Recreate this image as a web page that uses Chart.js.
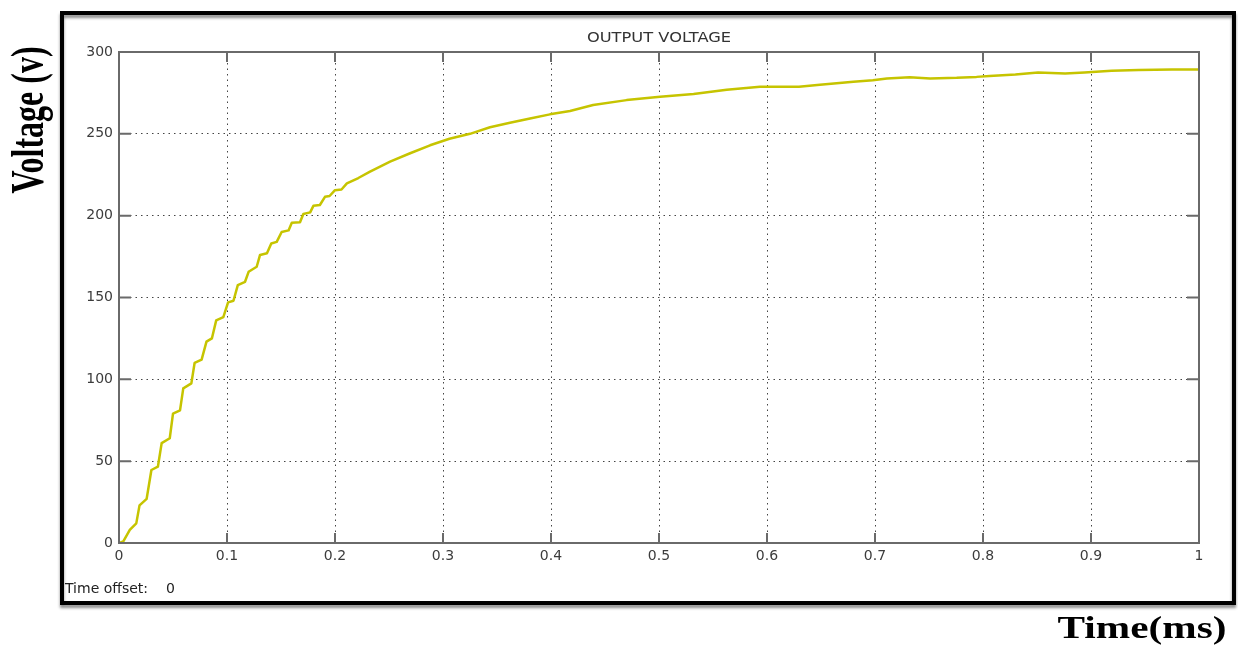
<!DOCTYPE html>
<html>
<head>
<meta charset="utf-8">
<title>Output Voltage</title>
<script src="https://cdn.jsdelivr.net/npm/chart.js"></script>
<style>
  html, body { margin: 0; padding: 0; background: #fff; }
  #wrap { position: relative; width: 1238px; height: 648px; }
</style>
</head>
<body>
<div id="wrap"><canvas id="voltChart" width="1238" height="648"></canvas></div>
<script>
// values (time in ms, voltage in V)
const timeMs = [
    0, 0.004, 0.010, 0.016, 0.019, 0.0256, 0.030, 0.036, 0.0395, 0.047,
    0.050, 0.0565, 0.0595, 0.067, 0.070, 0.0765, 0.081, 0.086, 0.090, 0.0966,
    0.101, 0.106, 0.110, 0.1167, 0.120, 0.1275, 0.1306, 0.137, 0.141, 0.146,
    0.1506, 0.157, 0.160, 0.1676, 0.1707, 0.177, 0.180, 0.186, 0.1907, 0.195,
    0.200, 0.206, 0.211, 0.2216, 0.232, 0.251, 0.269, 0.288, 0.306, 0.325,
    0.3435, 0.362, 0.3806, 0.399, 0.4176, 0.439, 0.470, 0.501, 0.532, 0.5627,
    0.5935, 0.6296, 0.649, 0.680, 0.698, 0.711, 0.732, 0.751, 0.7756, 0.794,
    0.806, 0.830, 0.851, 0.876, 0.894, 0.919, 0.944, 0.975, 1.0
];
const voltage = [
    0, 1, 8, 12, 23, 27, 44.6, 46.6, 61, 64,
    79, 81, 94.5, 97.5, 110, 112, 123, 125, 136, 138,
    147, 148, 157.6, 159.6, 165.7, 168.8, 176, 177, 183, 184,
    190, 191, 195.7, 196, 201, 202, 206, 206.5, 211.5, 212,
    215.6, 216, 219.7, 223, 226.8, 233, 238, 243, 247, 250,
    254, 256.8, 259.4, 261.9, 264, 267.6, 270.6, 272.7, 274.3, 277,
    278.7, 278.7, 280, 281.8, 282.8, 283.8, 284.5, 283.8, 284.2, 284.8,
    285.4, 286.3, 287.5, 286.9, 287.5, 288.5, 289, 289.3, 289.3
];
const xTicks = [0, 0.1, 0.2, 0.3, 0.4, 0.5, 0.6, 0.7, 0.8, 0.9, 1];
const yTicks = [0, 50, 100, 150, 200, 250, 300];

const chartTitle = 'OUTPUT VOLTAGE';
const xTitle = 'Time(ms)';
const yTitle = 'Voltage (v)';
const offsetLabel = 'Time offset:';
const offsetValue = '0';

const boxColor = '#6a6a6a';
const tickFont = { family: 'DejaVu Sans', size: 14 };

// frame, box, inward ticks and labels drawn around the plot
const scopeDecor = {
    id: 'scopeDecor',
    beforeDraw(chart) {
        const c = chart.ctx;
        c.save();
        c.fillStyle = '#fff';
        c.fillRect(0, 0, chart.width, chart.height);
        c.shadowColor = 'rgba(0,0,0,0.45)';
        c.shadowBlur = 3;
        c.shadowOffsetY = 3;
        c.strokeStyle = '#000';
        c.lineWidth = 4;
        c.strokeRect(62, 13, 1172, 590);
        c.restore();
    },
    afterDraw(chart) {
        const c = chart.ctx;
        const a = chart.chartArea;
        const xs = chart.scales.x;
        const ys = chart.scales.y;
        c.save();
        c.strokeStyle = boxColor;
        c.lineWidth = 2;
        c.strokeRect(a.left, a.top, a.right - a.left, a.bottom - a.top);

        c.beginPath();
        xTicks.forEach(v => {
            const px = xs.getPixelForValue(v);
            c.moveTo(px, a.bottom); c.lineTo(px, a.bottom - 10);
            c.moveTo(px, a.top); c.lineTo(px, a.top + 10);
        });
        yTicks.forEach(v => {
            const py = ys.getPixelForValue(v);
            c.moveTo(a.left, py); c.lineTo(a.left + 12, py);
            c.moveTo(a.right, py); c.lineTo(a.right - 12, py);
        });
        c.stroke();

        // title
        c.fillStyle = '#333';
        c.font = '14px "DejaVu Sans"';
        c.textAlign = 'center';
        c.textBaseline = 'middle';
        c.save();
        c.translate((a.left + a.right) / 2, 38);
        c.scale(1.16, 1);
        c.fillText(chartTitle, 0, 0);
        c.restore();

        // time offset note
        c.fillStyle = '#222';
        c.font = '14px "DejaVu Sans"';
        c.textAlign = 'left';
        c.textBaseline = 'alphabetic';
        c.fillText(offsetLabel, 65, 593);
        c.fillText(offsetValue, 166, 593);

        // axis titles
        c.fillStyle = '#000';
        c.font = 'bold 32px "Liberation Serif"';
        c.textAlign = 'center';
        c.save();
        c.translate(1142, 638);
        c.scale(1.29, 1);
        c.fillText(xTitle, 0, 0);
        c.restore();

        c.save();
        c.translate(31, 120);
        c.scale(1.45, 1);
        c.rotate(-Math.PI / 2);
        c.textBaseline = 'middle';
        c.fillText(yTitle, 0, 0);
        c.restore();
        c.restore();
    }
};

const ctx = document.getElementById('voltChart');
new Chart(ctx, {
    type: 'line',
    data: {
        datasets: [{
            label: 'Output voltage',
            data: timeMs.map((t, i) => ({ x: t, y: voltage[i] })),
            borderColor: '#c6c400',
            borderWidth: 2.5,
            borderJoinStyle: 'round',
            pointRadius: 0,
            tension: 0,
            fill: false
        }]
    },
    options: {
        responsive: false,
        animation: false,
        layout: { padding: { left: 0, right: 39, top: 52, bottom: 80 } },
        plugins: {
            legend: { display: false },
            tooltip: { enabled: false },
            title: { display: false }
        },
        scales: {
            x: {
                type: 'linear',
                min: 0,
                max: 1,
                afterBuildTicks: s => { s.ticks = xTicks.map(v => ({ value: v })); },
                afterFit: s => { s.height = 25; },
                grid: { color: '#444', lineWidth: 1, drawTicks: false },
                border: { display: false, dash: [1.5, 4] },
                ticks: {
                    padding: 5,
                    color: '#3c3c3c',
                    font: tickFont,
                    maxRotation: 0,
                    callback: v => String(+v.toFixed(1))
                }
            },
            y: {
                min: 0,
                max: 300,
                afterBuildTicks: s => { s.ticks = yTicks.map(v => ({ value: v })); },
                afterFit: s => { s.width = 119; },
                grid: { color: '#444', lineWidth: 1, drawTicks: false },
                border: { display: false, dash: [1.5, 4] },
                ticks: {
                    padding: 6,
                    color: '#3c3c3c',
                    font: tickFont
                }
            }
        }
    },
    plugins: [scopeDecor]
});
</script>
</body>
</html>
